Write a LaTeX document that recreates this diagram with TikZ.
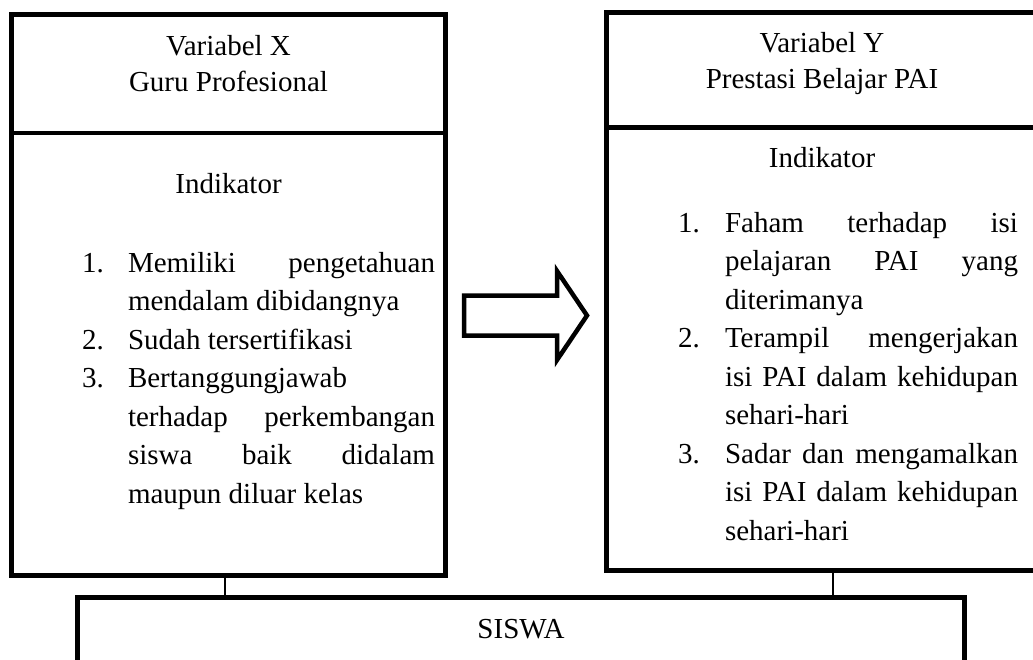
\documentclass[tikz,border=0pt]{standalone}
\usepackage{fontspec}
\setmainfont{Liberation Serif}
\begin{document}
\begin{tikzpicture}[x=1pt,y=-1pt,
  box/.style={draw, line width=5pt, inner sep=0pt, outer sep=0pt},
  divider/.style={line width=4.5pt},
  link/.style={line width=1.3pt},
  blockarrow/.style={draw, line width=4.5pt, line join=miter},
  txt/.style={inner sep=0pt, outer sep=0pt, font=\fontsize{29}{34}\selectfont},
  lt/.style={txt, anchor=base west},
  ct/.style={txt, anchor=base}]
\useasboundingbox (0,0) rectangle (1033,659);
\clip (0,0) rectangle (1033,659);
% boxes
\node[box, minimum width=434pt, minimum height=561pt] (lbox) at (228.5,295) {};
\node[box, minimum width=433.5pt, minimum height=558pt] (rbox) at (823.25,291.5) {};
\node[box, minimum width=887pt, minimum height=103pt] (siswa) at (521,648.5) {};
% dividers
\coordinate (ldiv) at (0,133);
\coordinate (rdiv) at (0,127.5);
\draw[divider] (lbox.west |- ldiv) -- (lbox.east |- ldiv);
\draw[divider] (rbox.west |- rdiv) -- (rbox.east |- rdiv);
% connectors
\coordinate (lc) at (225,0);
\coordinate (rc) at (833,0);
\draw[link] (lbox.south -| lc) -- (siswa.north -| lc);
\draw[link] (rbox.south -| rc) -- (siswa.north -| rc);
% block arrow
\draw[blockarrow] (464,295.5) -- (557,295.5) -- (557,271) -- (587,315.5) -- (557,360) -- (557,335.5) -- (464,335.5) -- cycle;
% left texts
\node[ct] (lh1) at (228.5,55) {Variabel X};
\node[ct] (lh2) at (228.5,91) {Guru Profesional};
\node[ct] (lind) at (228.5,193) {Indikator};
\node[lt] (ln1) at (82,272) {1.};
\node[lt] (ll1) at (128,272) {\makebox[307pt][s]{Memiliki pengetahuan}};
\node[lt] (ll2) at (128,310.5) {mendalam dibidangnya};
\node[lt] (ln2) at (82,349) {2.};
\node[lt] (ll3) at (128,349) {Sudah tersertifikasi};
\node[lt] (ln3) at (82,387.5) {3.};
\node[lt] (ll4) at (128,387.5) {Bertanggungjawab};
\node[lt] (ll5) at (128,426) {\makebox[307pt][s]{terhadap perkembangan}};
\node[lt] (ll6) at (128,464.5) {\makebox[307pt][s]{siswa baik didalam}};
\node[lt] (ll7) at (128,503) {maupun diluar kelas};
% right texts
\node[ct] (rh1) at (822,52) {Variabel Y};
\node[ct] (rh2) at (822,88.5) {Prestasi Belajar PAI};
\node[ct] (rind) at (822,167) {Indikator};
\node[lt] (rn1) at (678,232) {1.};
\node[lt] (rl1) at (725,232) {\makebox[293pt][s]{Faham terhadap isi}};
\node[lt] (rl2) at (725,270.5) {\makebox[293pt][s]{pelajaran PAI yang}};
\node[lt] (rl3) at (725,309) {diterimanya};
\node[lt] (rn2) at (678,347.5) {2.};
\node[lt] (rl4) at (725,347.5) {\makebox[293pt][s]{Terampil mengerjakan}};
\node[lt] (rl5) at (725,386) {\makebox[293pt][s]{isi PAI dalam kehidupan}};
\node[lt] (rl6) at (725,424.5) {sehari-hari};
\node[lt] (rn3) at (678,463) {3.};
\node[lt] (rl7) at (725,463) {\makebox[293pt][s]{Sadar dan mengamalkan}};
\node[lt] (rl8) at (725,501.5) {\makebox[293pt][s]{isi PAI dalam kehidupan}};
\node[lt] (rl9) at (725,540) {sehari-hari};
% bottom
\node[ct] (st) at (521,638) {SISWA};
\end{tikzpicture}
\end{document}
